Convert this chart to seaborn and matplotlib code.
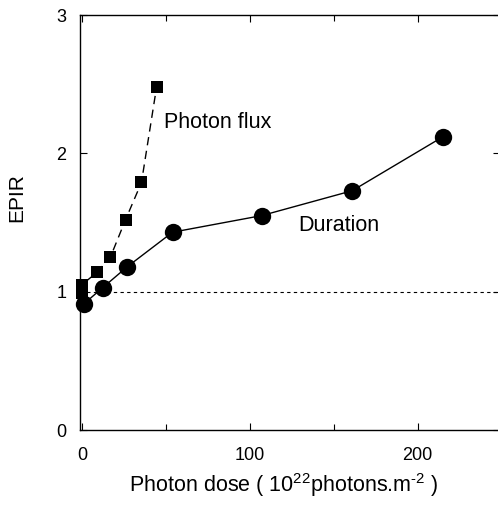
import numpy as np
import pandas as pd
import seaborn as sns
import matplotlib.pyplot as plt

# values
duration_dose = [1, 12.5, 27, 54, 107, 161, 215]
duration_epir = [0.91, 1.03, 1.18, 1.43, 1.55, 1.73, 2.12]

flux_dose = [0, 0, 9, 17, 26, 35.5, 44.5]
flux_epir = [0.99, 1.05, 1.14, 1.25, 1.52, 1.79, 2.48]

x_ticks = [0, 100, 200]
y_ticks = [0, 1, 2, 3]

sns.set_style("ticks")
plt.rcParams["font.family"] = ["Liberation Sans", "DejaVu Sans"]
plt.rcParams["mathtext.fontset"] = "custom"
plt.rcParams["mathtext.rm"] = "Liberation Sans"
for k in ["text.color", "axes.labelcolor", "xtick.color", "ytick.color", "axes.edgecolor"]:
    plt.rcParams[k] = "black"

duration = pd.DataFrame({"dose": duration_dose, "epir": duration_epir})
flux = pd.DataFrame({"dose": flux_dose, "epir": flux_epir})

fig = plt.figure(figsize=(4.98, 5.11), dpi=100)
ax = fig.add_axes([0.161, 0.1585, 0.843, 0.812])

# reference line at EPIR = 1
ax.axhline(1, color="black", lw=0.8, ls=(0, (3, 3)), zorder=1)

sns.lineplot(data=flux, x="dose", y="epir", ax=ax, estimator=None, sort=False,
             color="black", lw=1.0, marker="s", markersize=8, markeredgewidth=0,
             zorder=3, clip_on=False)
ax.lines[-1].set_dashes([6, 4])
sns.lineplot(data=duration, x="dose", y="epir", ax=ax, estimator=None, sort=False,
             color="black", lw=1.0, marker="o", markersize=12.5, markeredgewidth=0,
             zorder=3, clip_on=False)

ax.text(49, 2.22, "Photon flux", fontsize=15.5, va="center")
ax.text(129, 1.48, "Duration", fontsize=15.5, va="center")

ax.set_xlim(-1, 249)
ax.set_ylim(0, 3)
ax.set_xticks(x_ticks)
ax.set_xticks([50, 150], minor=True)
ax.set_yticks(y_ticks)
ax.tick_params(axis="both", which="both", direction="in", top=True, right=True,
               labelsize=13, width=0.8)
ax.tick_params(axis="both", which="major", length=5)
ax.tick_params(axis="x", which="major", pad=12)
ax.tick_params(axis="y", which="major", pad=10)
ax.tick_params(axis="both", which="minor", length=4)
for s in ax.spines.values():
    s.set_linewidth(1.0)

ax.set_xlabel(r"Photon dose ( 10$^{22}$photons.m$^{\text{-}2}$ )", fontsize=15.5)
ax.xaxis.set_label_coords(0.486, -0.1325)
ax.xaxis.label.set_va("center")
ax.set_ylabel("EPIR", fontsize=15)
ax.yaxis.set_label_coords(-0.15, 0.561)
ax.yaxis.label.set_va("center")

fig.savefig("out.png", dpi=100)
